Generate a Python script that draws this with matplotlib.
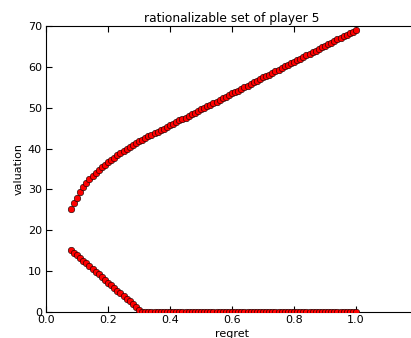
import matplotlib
matplotlib.use("Agg")
import matplotlib.pyplot as plt

# regret values (x) shared by both branches
regret = [0.08, 0.09, 0.10, 0.11, 0.12, 0.13, 0.14, 0.15, 0.16, 0.17,
          0.18, 0.19, 0.20, 0.21, 0.22, 0.23, 0.24, 0.25, 0.26, 0.27,
          0.28, 0.29, 0.30, 0.31, 0.32, 0.33, 0.34, 0.35, 0.36, 0.37,
          0.38, 0.39, 0.40, 0.41, 0.42, 0.43, 0.44, 0.45, 0.46, 0.47,
          0.48, 0.49, 0.50, 0.51, 0.52, 0.53, 0.54, 0.55, 0.56, 0.57,
          0.58, 0.59, 0.60, 0.61, 0.62, 0.63, 0.64, 0.65, 0.66, 0.67,
          0.68, 0.69, 0.70, 0.71, 0.72, 0.73, 0.74, 0.75, 0.76, 0.77,
          0.78, 0.79, 0.80, 0.81, 0.82, 0.83, 0.84, 0.85, 0.86, 0.87,
          0.88, 0.89, 0.90, 0.91, 0.92, 0.93, 0.94, 0.95, 0.96, 0.97,
          0.98, 0.99, 1.00]

# upper bound of the valuation
upper = [25.2, 26.7, 28.0, 29.4, 30.6, 31.6, 32.5, 33.3, 34.1, 34.8,
         35.5, 36.1, 36.7, 37.3, 37.8, 38.4, 38.9, 39.4, 39.9, 40.4,
         40.9, 41.3, 41.8, 42.2, 42.6, 43.0, 43.4, 43.7, 44.1, 44.5,
         44.9, 45.3, 45.7, 46.1, 46.5, 46.9, 47.2, 47.6, 48.0, 48.4,
         48.8, 49.2, 49.6, 50.0, 50.4, 50.7, 51.1, 51.5, 51.9, 52.3,
         52.7, 53.1, 53.5, 53.9, 54.2, 54.6, 55.0, 55.4, 55.8, 56.2,
         56.6, 57.0, 57.4, 57.7, 58.1, 58.5, 58.9, 59.3, 59.7, 60.1,
         60.5, 60.9, 61.2, 61.6, 62.0, 62.4, 62.8, 63.2, 63.6, 64.0,
         64.4, 64.8, 65.1, 65.5, 65.9, 66.3, 66.7, 67.1, 67.5, 67.9,
         68.3, 68.6, 69.0]

# lower bound of the valuation
lower = [15.2, 14.5, 13.9, 13.2, 12.5, 11.9, 11.2, 10.6, 9.9, 9.2,
         8.6, 7.9, 7.2, 6.6, 5.9, 5.2, 4.6, 3.9, 3.2, 2.6,
         1.9, 1.3, 0.6, 0.0, 0.0, 0.0, 0.0, 0.0, 0.0, 0.0,
         0.0, 0.0, 0.0, 0.0, 0.0, 0.0, 0.0, 0.0, 0.0, 0.0,
         0.0, 0.0, 0.0, 0.0, 0.0, 0.0, 0.0, 0.0, 0.0, 0.0,
         0.0, 0.0, 0.0, 0.0, 0.0, 0.0, 0.0, 0.0, 0.0, 0.0,
         0.0, 0.0, 0.0, 0.0, 0.0, 0.0, 0.0, 0.0, 0.0, 0.0,
         0.0, 0.0, 0.0, 0.0, 0.0, 0.0, 0.0, 0.0, 0.0, 0.0,
         0.0, 0.0, 0.0, 0.0, 0.0, 0.0, 0.0, 0.0, 0.0, 0.0,
         0.0, 0.0, 0.0]

x_ticks = [0.0, 0.2, 0.4, 0.6, 0.8, 1.0]
y_ticks = [0, 10, 20, 30, 40, 50, 60, 70]

W, H = 411, 338
fig = plt.figure(figsize=(W / 100, H / 100), dpi=100)
fig.patch.set_facecolor('white')
# axes run past the right edge (x up to 1.2), as in the cropped original
ax = fig.add_axes([46 / W, (H - 312) / H, 372 / W, 286 / H])

ax.scatter(regret, upper, s=22, c='red', edgecolors='black', linewidths=0.4, zorder=3)
ax.scatter(regret, lower, s=22, c='red', edgecolors='black', linewidths=0.4, zorder=3)

ax.set_xlim(0, 1.2)
ax.set_ylim(0, 70)
ax.set_xticks(x_ticks)
ax.set_yticks(y_ticks)
ax.tick_params(direction='in', top=True, right=True, labelsize=8, length=4, pad=2)
ax.tick_params(axis='y', pad=3)

ax.set_xlabel('regret', fontsize=8, labelpad=3)
ax.set_ylabel('valuation', fontsize=8, labelpad=3)
ax.set_title('rationalizable set of player 5', fontsize=8.8, pad=3)

fig.savefig('out.png', dpi=100)
